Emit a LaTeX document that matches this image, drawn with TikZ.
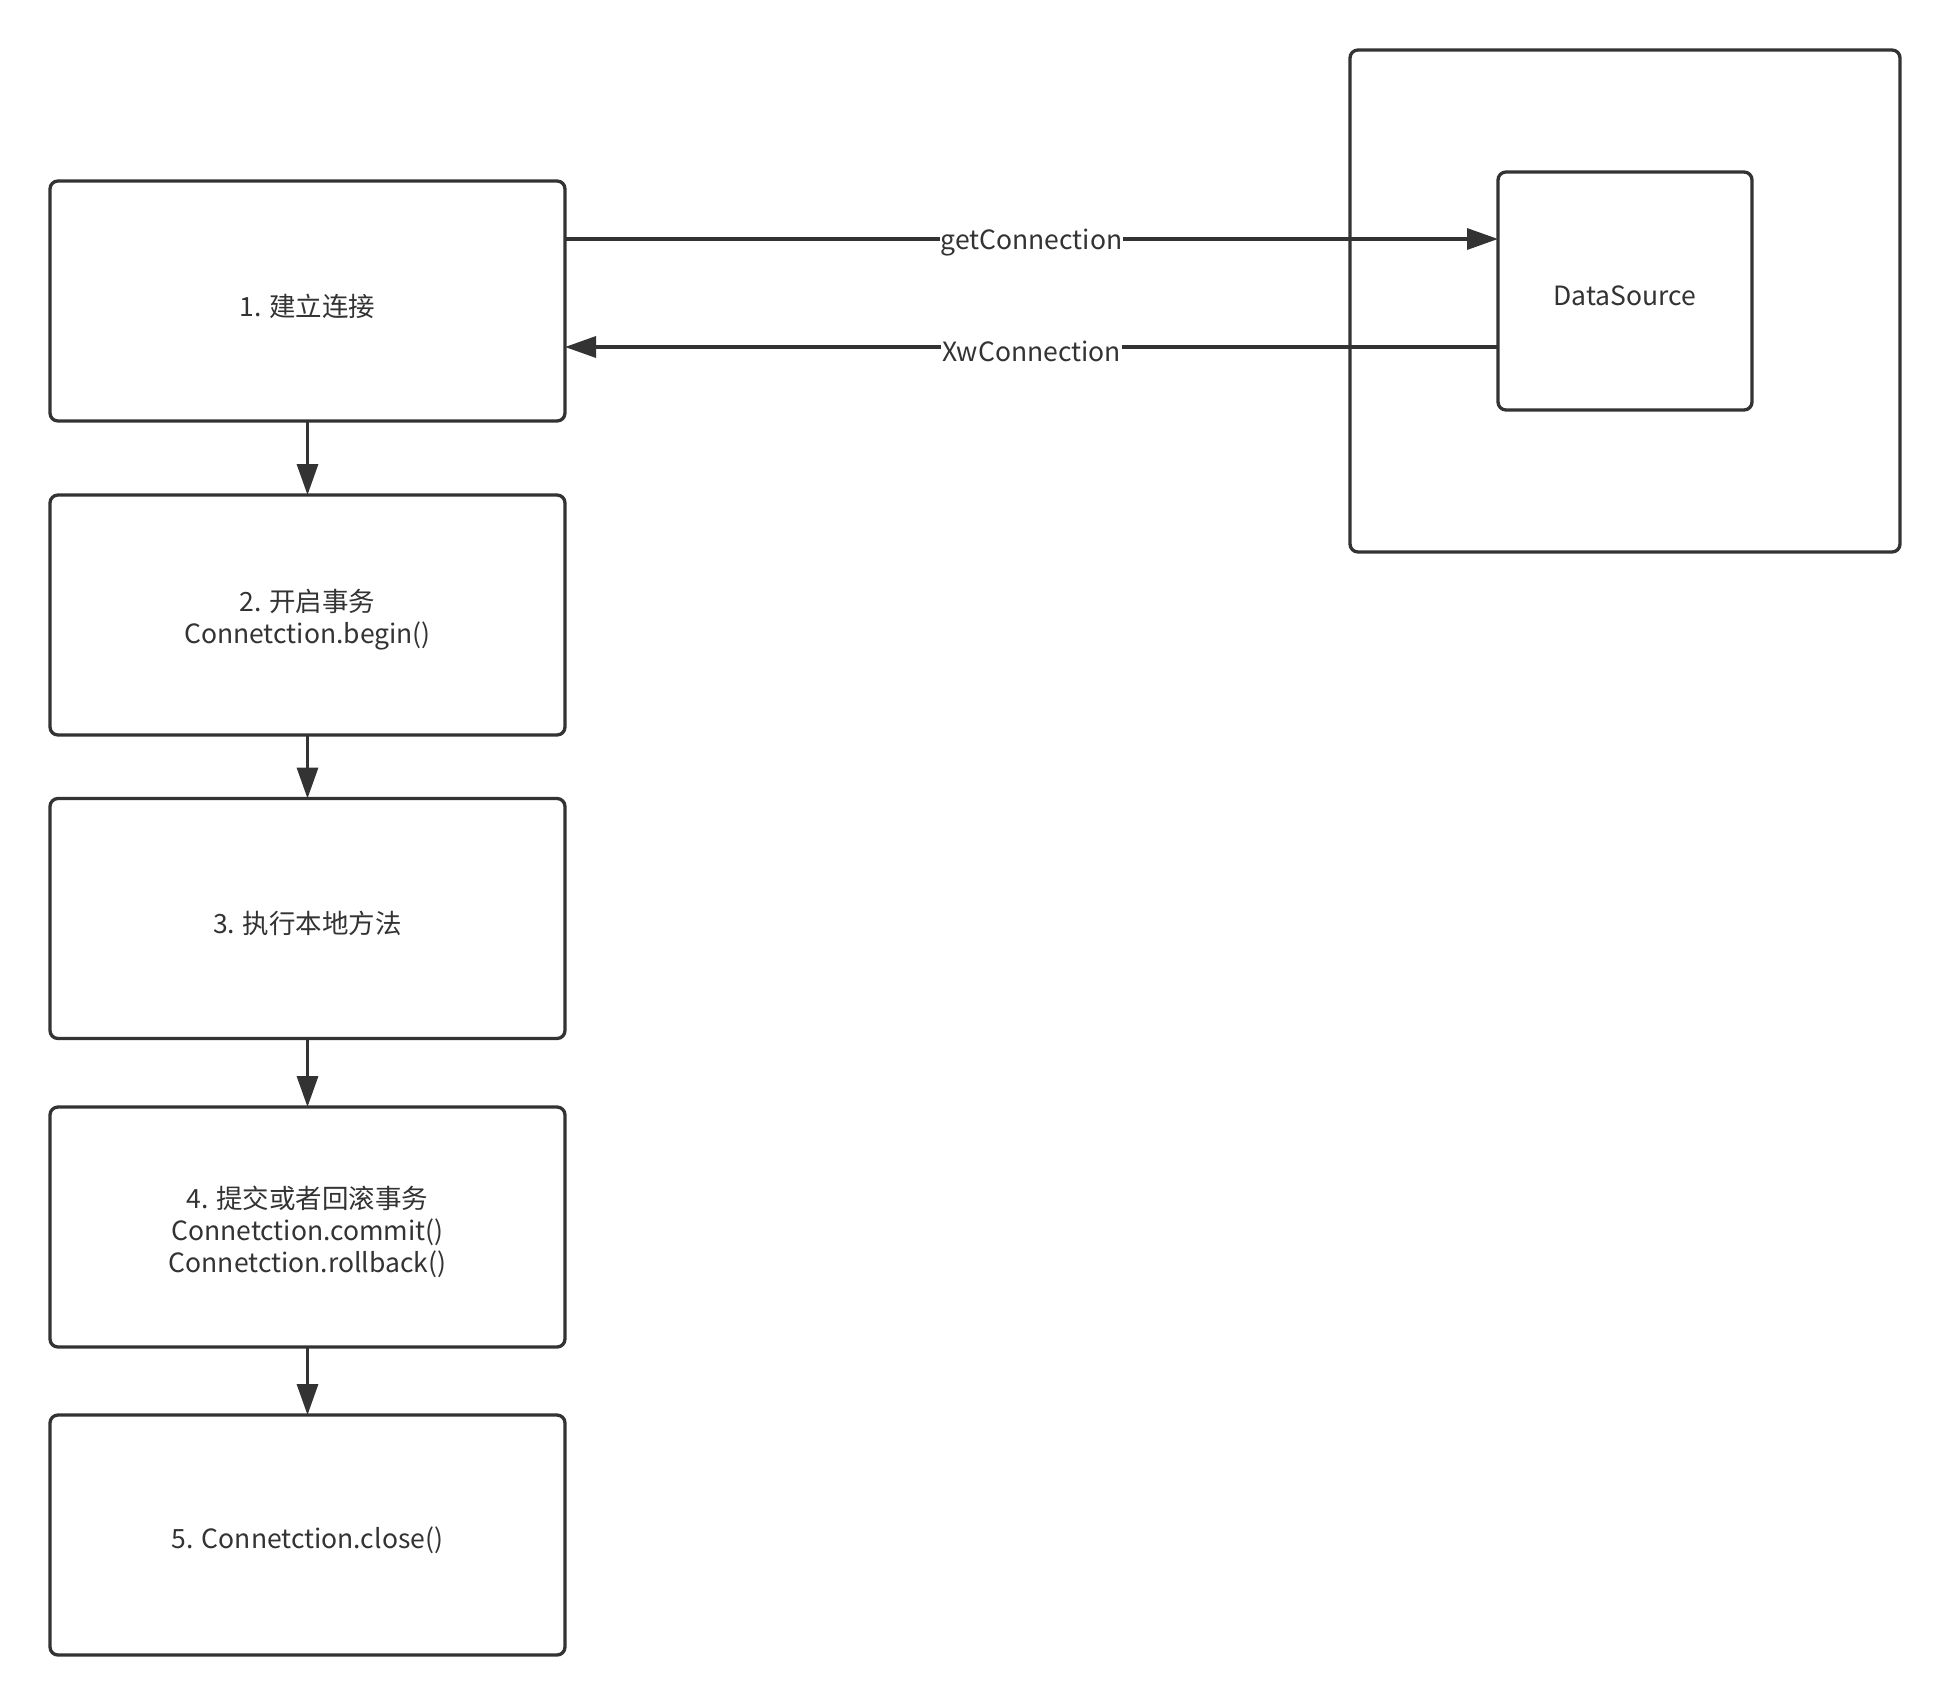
\documentclass[tikz,border=0pt]{standalone}
\usepackage{fontspec}
\setmainfont{Noto Sans CJK SC}
\usetikzlibrary{arrows.meta}
\definecolor{ink}{HTML}{333333}
\begin{document}
\begin{tikzpicture}[x=1pt,y=-1pt,
  txt/.style={text=ink,font=\fontsize{26.5}{32}\selectfont,align=center,inner sep=0pt},
  box/.style={draw=ink,line width=3.3pt,rounded corners=8pt,minimum width=515pt,minimum height=240pt,inner sep=0pt,outer sep=0pt},
  arr/.style={draw=ink,line width=3.3pt,-{Triangle[length=31pt,width=21pt]}},
  lbl/.style={txt,fill=white,inner sep=1pt,yshift=-4pt}]
\useasboundingbox[fill=white] (0,0) rectangle (1950,1705);

\node[box] (b1) at (307.5,301) {};
\node[box] (b2) at (307.5,615) {};
\node[box] (b3) at (307.5,918.5) {};
\node[box] (b4) at (307.5,1227) {};
\node[box] (b5) at (307.5,1535) {};
\node[box,minimum width=550pt,minimum height=502pt] (outer) at (1625,301) {};
\node[box,minimum width=254pt,minimum height=238pt] (ds) at (1625,291) {};

\node[txt] (t1) at ([yshift=-5pt]b1.center) {1. 建立连接};
\node[txt] (t2) at ([yshift=-5pt]b2.center) {2. 开启事务\\Connetction.begin()};
\node[txt] (t3) at ([yshift=-5pt]b3.center) {3. 执行本地方法};
\node[txt] (t4) at ([yshift=-5pt]b4.center) {4. 提交或者回滚事务\\Connetction.commit()\\Connetction.rollback()};
\node[txt] (t5) at ([yshift=-5pt]b5.center) {5. Connetction.close()};
\node[txt] (tds) at ([yshift=-5pt]ds.center) {DataSource};

\coordinate (gy) at (0,239);
\coordinate (xy) at (0,347);

\draw[arr] (b1.south) -- (b2.north);
\draw[arr] (b2.south) -- (b3.north);
\draw[arr] (b3.south) -- (b4.north);
\draw[arr] (b4.south) -- (b5.north);

\draw[arr] (b1.east |- gy) -- node[lbl] {getConnection} (ds.west |- gy);
\draw[arr] (ds.west |- xy) -- node[lbl] {XwConnection} (b1.east |- xy);
\end{tikzpicture}
\end{document}
